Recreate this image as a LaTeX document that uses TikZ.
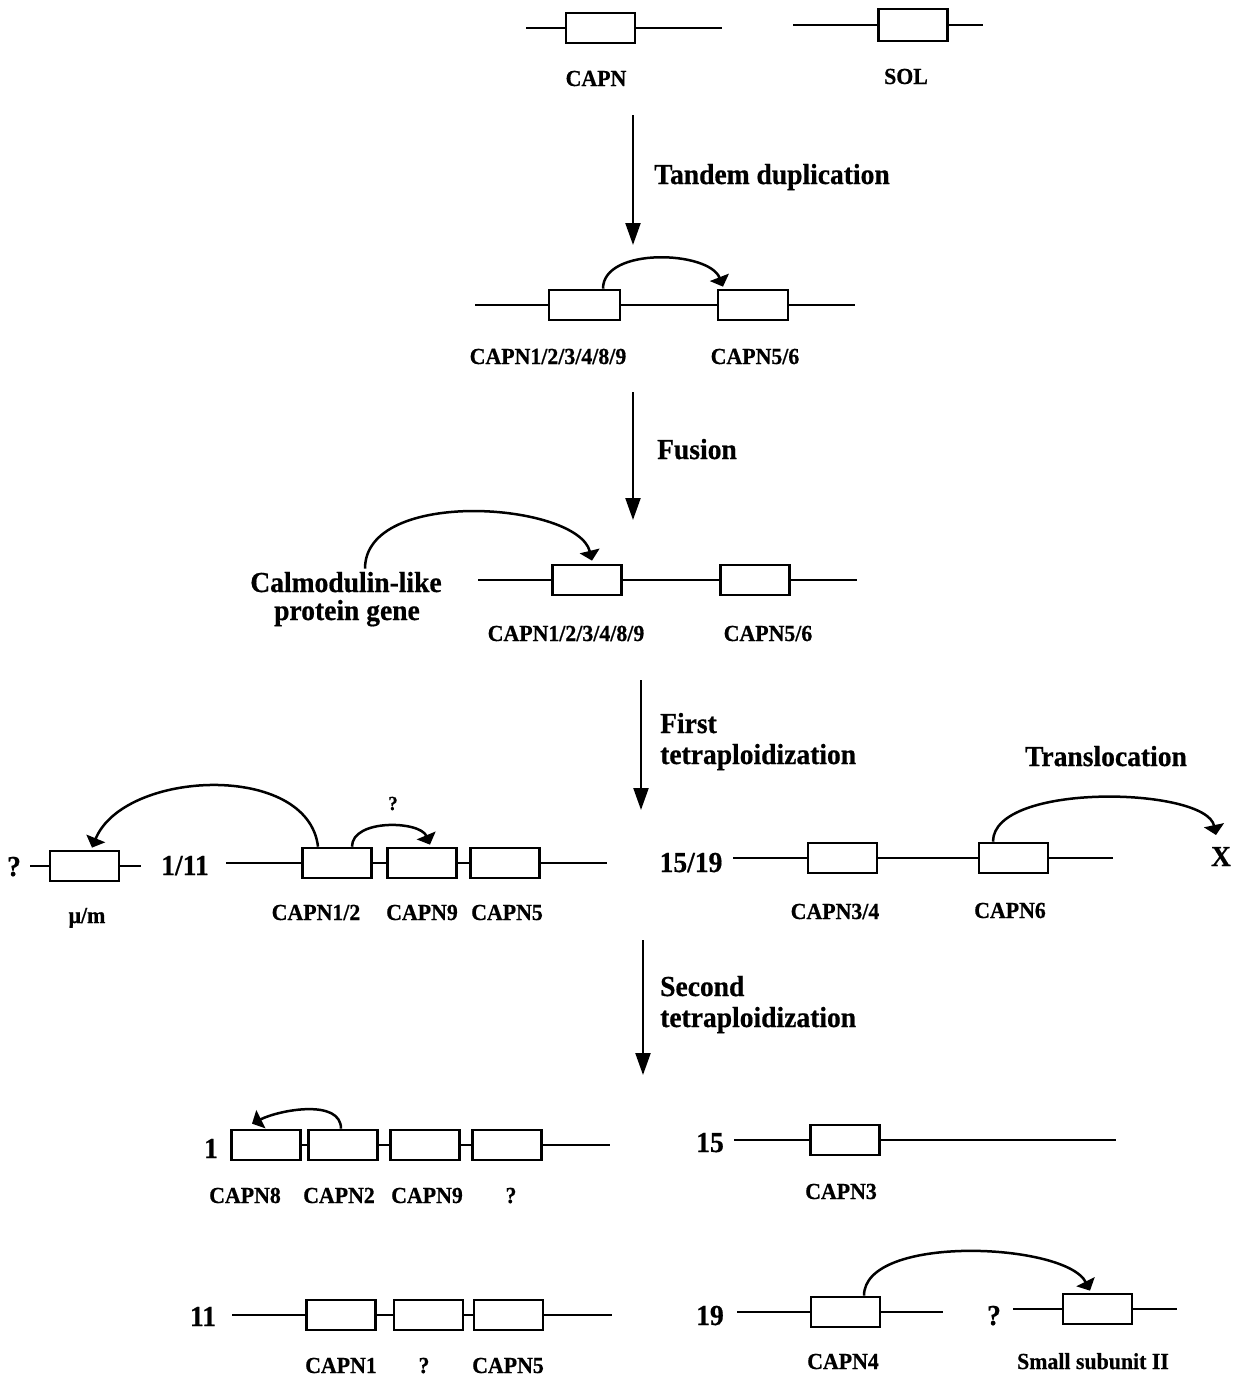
\documentclass[tikz,border=0pt]{standalone}
\usepackage{fontspec}
\setmainfont{Liberation Serif}[BoldFeatures={FakeBold=0.6,FakeStretch=0.95}]
\usetikzlibrary{arrows.meta}
\begin{document}
\begin{tikzpicture}[x=1pt,y=-1pt,
  gene/.style={draw, line width=2.7pt, minimum width=69pt, minimum height=30pt, inner sep=0pt, fill=white},
  chrom/.style={line width=2.5pt},
  sm/.style={font=\bfseries\fontsize{23}{25}\selectfont, inner sep=0pt, anchor=base},
  big/.style={font=\bfseries\fontsize{29}{31}\selectfont, inner sep=0pt, anchor=base},
  bigw/.style={big, anchor=base west},
  stagearrow/.style={line width=2.2pt, -{Triangle[width=15pt,length=22pt]}},
  jump/.style={line width=2.5pt, -{Triangle[width=20pt,length=10pt]}}
]
\useasboundingbox (0,0) rectangle (1241,1376);

% ---------- Row 1 ----------
\node[gene] (gA) at (600.5,28) {};
\node[gene, minimum height=32pt] (gS) at (913,25) {};
\coordinate (a0) at (526,28); \coordinate (a1) at (722,28);
\coordinate (s0) at (793,25); \coordinate (s1) at (983,25);
\draw[chrom] (a0) -- (gA.west) (gA.east) -- (a1);
\draw[chrom] (s0) -- (gS.west) (gS.east) -- (s1);
\node[sm] (lA) at (596,86) {CAPN};
\node[sm] (lS) at (906,84) {SOL};

% ---------- Arrow 1 ----------
\coordinate (v1a) at (633,115); \coordinate (v1b) at (633,245);
\draw[stagearrow] (v1a) -- (v1b);
\node[bigw] (t1) at (654,184) {Tandem duplication};

% ---------- Row 2 ----------
\node[gene, minimum width=71pt] (b1) at (584.5,305) {};
\node[gene, minimum width=70pt] (b2) at (753,305) {};
\coordinate (b0) at (475,305); \coordinate (b3) at (855,305);
\draw[chrom] (b0) -- (b1.west) (b1.east) -- (b2.west) (b2.east) -- (b3);
\draw[jump] ([xshift=18.5pt]b1.north) .. controls +(0,-42) and +(-14,-36) .. ([xshift=-30pt,yshift=2pt]b2.north);
\node[sm] (lb1) at (548,364) {CAPN1/2/3/4/8/9};
\node[sm] (lb2) at (755,364) {CAPN5/6};

% ---------- Arrow 2 ----------
\coordinate (v2a) at (633,392); \coordinate (v2b) at (633,520);
\draw[stagearrow] (v2a) -- (v2b);
\node[bigw] (t2) at (657,459) {Fusion};

% ---------- Row 3 ----------
\node[gene] (c1) at (587,580) {};
\node[gene] (c2) at (755,580) {};
\coordinate (c0) at (478,580); \coordinate (c3) at (857,580);
\draw[chrom] (c0) -- (c1.west) (c1.east) -- (c2.west) (c2.east) -- (c3);
\node[big] (cal) at (346,592) {Calmodulin-like};
\node[big] (prot) at (347,620) {protein gene};
\draw[jump] ([xshift=19pt,yshift=3pt]cal.north) .. controls +(0,-82) and +(-14,-58) .. ([xshift=5pt,yshift=3pt]c1.north);
\node[sm] (lc1) at (566,641) {CAPN1/2/3/4/8/9};
\node[sm] (lc2) at (768,641) {CAPN5/6};

% ---------- Arrow 3 ----------
\coordinate (v3a) at (641,680); \coordinate (v3b) at (641,810);
\draw[stagearrow] (v3a) -- (v3b);
\node[bigw] (t3a) at (660,733) {First};
\node[bigw] (t3b) at (660,764) {tetraploidization};

% ---------- Row 4 left ----------
\node[gene, minimum width=69pt] (m1) at (84.5,866) {};
\coordinate (m0) at (30,866); \coordinate (m2) at (141,866);
\draw[chrom] (m0) -- (m1.west) (m1.east) -- (m2);
\node[big] (q1) at (14,876) {?};
\node[sm] (lm) at (87,923) {μ/m};
\node[big] (n111) at (185,875) {1/11};
\node[gene] (d1) at (337,863) {};
\node[gene] (d2) at (422,863) {};
\node[gene] (d3) at (505,863) {};
\coordinate (d0) at (226,863); \coordinate (d4) at (607,863);
\draw[chrom] (d0) -- (d1.west) (d1.east) -- (d2.west) (d2.east) -- (d3.west) (d3.east) -- (d4);
\draw[jump] ([xshift=-19pt]d1.north) .. controls +(-10,-85) and +(32,-78) .. ([xshift=7.5pt,yshift=2pt]m1.north);
\draw[jump] ([xshift=15pt]d1.north) .. controls +(0,-28) and +(-10,-24) .. ([xshift=8pt,yshift=2pt]d2.north);
\node[font=\bfseries\fontsize{20}{22}\selectfont, inner sep=0pt, anchor=base] (q2) at (393,810) {?};
\node[sm] (ld1) at (316,920) {CAPN1/2};
\node[sm] (ld2) at (422,920) {CAPN9};
\node[sm] (ld3) at (507,920) {CAPN5};

% ---------- Row 4 right ----------
\node[big] (n1519) at (691,872) {15/19};
\node[gene] (e1) at (842.5,858) {};
\node[gene] (e2) at (1013.5,858) {};
\coordinate (e0) at (733,858); \coordinate (e3) at (1113,858);
\draw[chrom] (e0) -- (e1.west) (e1.east) -- (e2.west) (e2.east) -- (e3);
\node[big] (trans) at (1106,766) {Translocation};
\node[big] (xx) at (1221,866) {X};
\coordinate (xtip) at (1216,835);
\draw[jump] ([xshift=-20.5pt]e2.north) .. controls +(0,-60) and +(-10,-48) .. (xtip);
\node[sm] (le1) at (835,919) {CAPN3/4};
\node[sm] (le2) at (1010,918) {CAPN6};

% ---------- Arrow 4 ----------
\coordinate (v4a) at (643,940); \coordinate (v4b) at (643,1075);
\draw[stagearrow] (v4a) -- (v4b);
\node[bigw] (t4a) at (660,996) {Second};
\node[bigw] (t4b) at (660,1027) {tetraploidization};

% ---------- Row 5 left ----------
\node[big] (n1) at (211,1158) {1};
\node[gene] (f1) at (266,1145) {};
\node[gene] (f2) at (343,1145) {};
\node[gene] (f3) at (425,1145) {};
\node[gene] (f4) at (507,1145) {};
\coordinate (f5) at (610,1145);
\draw[chrom] (f1.east) -- (f2.west) (f2.east) -- (f3.west) (f3.east) -- (f4.west) (f4.east) -- (f5);
\draw[jump] ([xshift=-2pt]f2.north) .. controls +(0,-30) and +(28,-14) .. ([xshift=-14pt,yshift=5pt]f1.north);
\node[sm] (lf1) at (245,1203) {CAPN8};
\node[sm] (lf2) at (339,1203) {CAPN2};
\node[sm] (lf3) at (427,1203) {CAPN9};
\node[sm] (lf4) at (511,1203) {?};

% ---------- Row 5 right ----------
\node[big] (n15) at (710,1152) {15};
\node[gene] (h1) at (845,1140) {};
\coordinate (h0) at (734,1140); \coordinate (h2) at (1116,1140);
\draw[chrom] (h0) -- (h1.west) (h1.east) -- (h2);
\node[sm] (lh1) at (841,1199) {CAPN3};

% ---------- Row 6 left ----------
\node[big] (n11) at (203,1326) {11};
\node[gene] (i1) at (341,1315) {};
\node[gene] (i2) at (428.5,1315) {};
\node[gene] (i3) at (508.5,1315) {};
\coordinate (i0) at (232,1315); \coordinate (i4) at (612,1315);
\draw[chrom] (i0) -- (i1.west) (i1.east) -- (i2.west) (i2.east) -- (i3.west) (i3.east) -- (i4);
\node[sm] (li1) at (341,1373) {CAPN1};
\node[sm] (li2) at (424,1373) {?};
\node[sm] (li3) at (508,1373) {CAPN5};

% ---------- Row 6 right ----------
\node[big] (n19) at (710,1325) {19};
\node[gene] (j1) at (845.5,1312) {};
\coordinate (j0) at (737,1312); \coordinate (j3) at (943,1312);
\draw[chrom] (j0) -- (j1.west) (j1.east) -- (j3);
\node[big] (q3) at (994,1325) {?};
\node[gene] (j2) at (1097.5,1309) {};
\coordinate (k0) at (1013,1309); \coordinate (k1) at (1177,1309);
\draw[chrom] (k0) -- (j2.west) (j2.east) -- (k1);
\draw[jump] ([xshift=18.5pt]j1.north) .. controls +(0,-62) and +(-24,-48) .. ([xshift=-7.5pt,yshift=2pt]j2.north);
\node[sm] (lj1) at (843,1369) {CAPN4};
\node[sm] (lj2) at (1093,1369) {Small subunit II};
\end{tikzpicture}
\end{document}
